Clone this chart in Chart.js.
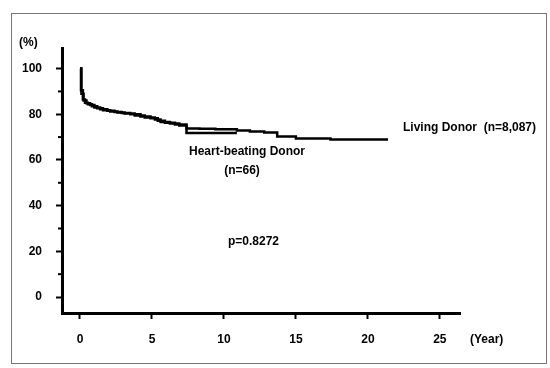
<!DOCTYPE html>
<html>
<head>
<meta charset="utf-8">
<script src="https://cdn.jsdelivr.net/npm/chart.js@4/dist/chart.umd.min.js"></script>
<style>
  html, body { margin: 0; padding: 0; background: #fff; }
  #wrap { width: 550px; height: 368px; }
</style>
</head>
<body>
<div id="wrap"><canvas id="chart" width="550" height="368"></canvas></div>
<script>
// survival data (years, %)
const livingYears = [0, 0.07, 0.2, 0.35, 0.55, 0.83, 1.2, 1.6, 2.1, 2.6, 3.1, 3.8, 4.5, 5.2, 5.6, 6.25, 6.9, 7.4, 8.3, 9.4, 10.9, 11.8, 12.8, 13.7, 15.0, 17.4, 21.4];
const livingSurv  = [100, 90.5, 86.5, 85, 84.4, 83.5, 82.6, 81.8, 81.2, 80.8, 80.3, 79.5, 78.6, 77.7, 76.6, 76, 75.1, 73.8, 73.6, 73.4, 72.9, 72.5, 72, 70.3, 69.4, 69, 69];
const heartYears  = [0, 0.1, 0.25, 0.45, 0.7, 1.0, 1.4, 1.9, 2.4, 2.9, 3.5, 4.2, 4.9, 5.4, 5.9, 6.6, 7.4, 10.9];
const heartSurv   = [100, 89, 86, 84.8, 84, 83, 82.2, 81.5, 81, 80.5, 80, 79, 78.2, 77.2, 76.3, 75.5, 71.8, 71.8];

const xTickValues = [0, 5, 10, 15, 20, 25];
const yTickValues = [0, 20, 40, 60, 80, 100];
const yMinorTicks = [10, 30, 50, 70, 90];

const fontFamily = '"Liberation Sans", Arial, sans-serif';
const labelFont = 'bold 12px ' + fontFamily;

function toPoints(xs, ys) {
  return xs.map((x, i) => ({ x: x, y: ys[i] }));
}

// frame, minor ticks and text notes
const notes = {
  id: 'notes',
  afterDraw(chart) {
    const ctx = chart.ctx;
    const ys = chart.scales.y;
    ctx.save();
    ctx.strokeStyle = '#777';
    ctx.lineWidth = 1;
    ctx.strokeRect(11.5, 13.5, 535, 350);

    ctx.strokeStyle = '#000';
    ctx.lineWidth = 2;
    yMinorTicks.forEach(v => {
      const py = ys.getPixelForValue(v);
      ctx.beginPath();
      ctx.moveTo(chart.chartArea.left - 4, py);
      ctx.lineTo(chart.chartArea.left, py);
      ctx.stroke();
    });

    ctx.fillStyle = '#000';
    ctx.font = labelFont;
    ctx.textBaseline = 'middle';
    ctx.textAlign = 'left';
    ctx.fillText('(%)', 19, 43);
    ctx.fillText('(Year)', 470, 340);
    ctx.fillText('Living Donor  (n=8,087)', 403, 128);
    ctx.fillText('p=0.8272', 228, 242);
    ctx.textAlign = 'center';
    ctx.fillText('Heart-beating Donor', 247, 152);
    ctx.fillText('(n=66)', 242, 171);
    ctx.restore();
  }
};

new Chart(document.getElementById('chart'), {
  type: 'line',
  data: {
    datasets: [
      {
        label: 'Living Donor',
        data: toPoints(livingYears, livingSurv),
        borderColor: '#000',
        borderWidth: 2.5,
        stepped: true,
        pointRadius: 0,
        fill: false
      },
      {
        label: 'Heart-beating Donor',
        data: toPoints(heartYears, heartSurv),
        borderColor: '#000',
        borderWidth: 2.5,
        stepped: true,
        pointRadius: 0,
        fill: false
      }
    ]
  },
  options: {
    responsive: false,
    animation: false,
    layout: { padding: { top: 48, right: 90, left: 0, bottom: 0 } },
    plugins: { legend: { display: false }, tooltip: { enabled: false } },
    scales: {
      x: {
        type: 'linear',
        min: -1.25,
        max: 26.4,
        afterFit(scale) { scale.height = 55; },
        afterBuildTicks(scale) { scale.ticks = xTickValues.map(v => ({ value: v })); },
        grid: { drawOnChartArea: false, drawTicks: true, tickLength: 6, tickWidth: 2, tickColor: '#000' },
        border: { display: true, color: '#000', width: 3 },
        ticks: { color: '#000', font: { family: fontFamily, size: 12, weight: 'bold' }, padding: 13, maxRotation: 0 }
      },
      y: {
        min: -7,
        max: 109,
        afterFit(scale) { scale.width = 62; },
        afterBuildTicks(scale) { scale.ticks = yTickValues.map(v => ({ value: v })); },
        grid: { drawOnChartArea: false, drawTicks: true, tickLength: 6, tickWidth: 2, tickColor: '#000' },
        border: { display: true, color: '#000', width: 3 },
        ticks: { color: '#000', font: { family: fontFamily, size: 12, weight: 'bold' }, padding: 14 }
      }
    }
  },
  plugins: [notes]
});
</script>
</body>
</html>
